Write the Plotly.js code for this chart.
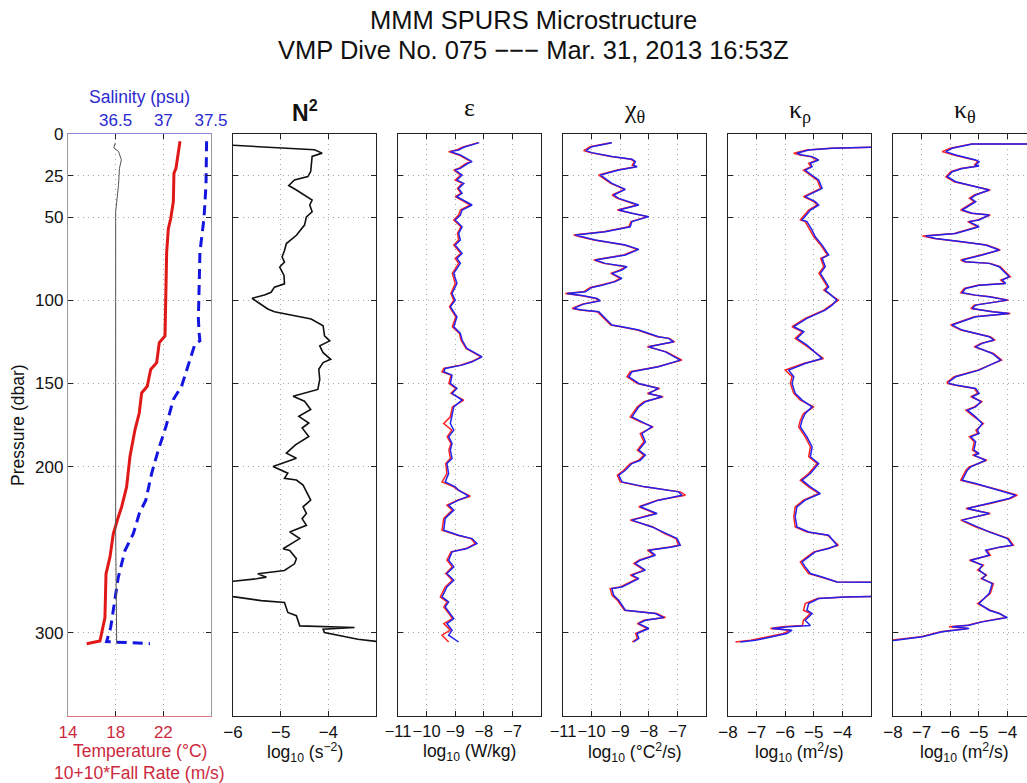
<!DOCTYPE html>
<html><head><meta charset="utf-8">
<script src="https://cdn.plot.ly/plotly-3.0.1.min.js"></script>
<style>html,body{margin:0;padding:0;overflow:hidden;background:#fff}#chart{width:1040px;height:783px}</style>
</head><body><div id="chart"></div>
<script>
// ---------------- data ----------------
const yTicks = [0, 25, 50, 100, 150, 200, 300];

// Panel 1: temperature, fall rate (10+10*W), salinity
const tempP = [4.4,12.5,20.6,23.6,40.7,50.8,56.9,71,90,111,117.4,121.4,125.4,137.5,141.6,151.7,155.7,167.8,177.9,194,212.2,224.3,230.3,240.4,254.5,264.6,290.8,304.9,306.5];
const tempT = [23.40,23.26,23.06,22.89,22.84,22.62,22.42,22.28,22.25,22.2,22.2,22.14,21.66,21.44,20.94,20.65,20.18,19.98,19.62,19.2,18.92,18.5,18.22,17.8,17.52,17.19,17.1,16.68,15.57];
const fallP = [4.4,30.6,50.8,71,87,111,119.4,124.4,126.4,135.5,151.7,159.7,175.9,190,204.1,220.2,228.3,240.4,250.5,266.6,278.7,296.8,305.3,306.5];
const fallV = [25.63,25.58,25.41,25.07,25.02,24.94,25.0,25.07,24.65,24.23,23.53,22.84,22.22,21.58,21.02,20.53,19.98,19.48,18.78,18.22,17.94,17.58,17.24,20.88];
const salP = [5.4,8.4,10.5,15.5,20.6,30.6,46.8,111,240,300,306.5];
const salS = [36.496,36.48,36.53,36.56,36.54,36.53,36.50,36.50,36.50,36.51,36.51];

// Panel 2: log10 N^2
const n2P = [6.0,9.5,11.5,13.5,22.6,25.6,27.6,31.0,33.7,36.7,39.7,42.7,46.8,49.8,54.8,60.9,65.9,70.0,74.0,77.0,80.0,85.1,90.1,92.1,95.2,96.8,98.8,101.2,105.2,106.9,108.9,111.3,115.3,121.4,124.4,127.4,131.5,135.5,137.5,141.5,147.6,153.6,157.7,160.7,165.7,169.8,173.8,176.8,181.9,186.9,191.9,195.0,200.0,204.0,207.1,208.1,211.1,215.1,220.2,224.2,228.2,231.3,235.3,239.3,243.3,249.4,250.4,255.4,258.5,262.5,264.5,266.5,267.5,269.0,273.0,278.2,280.6,281.7,287.7,289.7,295.8,296.8,297.8,299.8,301.8,303.8,305.8];
const n2V = [-6.5,-4.29,-4.13,-4.34,-4.37,-4.43,-4.71,-4.83,-4.67,-4.50,-4.34,-4.39,-4.34,-4.46,-4.50,-4.67,-4.88,-4.92,-4.97,-4.92,-5.02,-4.93,-4.92,-5.13,-5.20,-5.34,-5.60,-5.48,-5.27,-5.13,-4.78,-4.36,-4.11,-4.08,-3.97,-4.18,-4.11,-3.95,-4.11,-4.20,-4.18,-4.22,-4.74,-4.50,-4.37,-4.62,-4.41,-4.55,-4.41,-4.69,-4.88,-4.67,-5.16,-4.85,-4.92,-4.67,-4.53,-4.46,-4.37,-4.53,-4.46,-4.55,-4.46,-4.81,-4.60,-4.95,-4.81,-4.67,-4.71,-4.92,-5.48,-5.30,-5.51,-6.0,-6.8,-6.0,-5.41,-4.92,-4.85,-4.67,-4.60,-3.45,-4.11,-4.08,-3.73,-3.38,-2.8];

// Panel 3: log10 epsilon (two probes)
const epsP = [5.2,8.0,9.6,10.6,12.6,16.6,17.6,20.7,21.7,24.7,27.7,29.7,32.7,35.7,37.7,42.7,45.7,48.7,51.7,55.8,59.8,63.8,66.8,71.8,74.8,77.8,83.8,89.9,95.9,99.9,103.9,109.9,115.9,119.9,123.9,129.0,134.0,137.0,139.0,141.0,143.0,145.0,150.0,153.0,156.0,160.0,164.1,170.1,174.1,178.1,182.1,186.1,190.1,195.1,198.2,204.2,209.2,212.2,214.2,217.8,220.2,223.2,226.2,231.2,238.3,241.3,243.3,246.3,249.3,251.3,256.3,260.3,264.3,268.4,272.4,278.4,281.4,284.4,288.4,291.4,294.4,298.4,301.4,305.5];
const epsBlue = [-8.16,-8.70,-8.88,-9.17,-8.82,-8.41,-8.55,-8.82,-9.00,-8.76,-8.94,-8.70,-8.88,-8.76,-8.94,-8.41,-8.76,-8.82,-9.00,-8.76,-8.88,-8.82,-9.00,-8.76,-8.94,-8.82,-9.05,-8.94,-9.11,-9.00,-9.17,-8.94,-9.05,-8.82,-8.76,-8.59,-8.06,-8.41,-8.76,-9.35,-9.40,-9.11,-9.17,-8.94,-9.11,-8.76,-9.05,-9.11,-9.17,-9.05,-9.23,-9.11,-9.17,-9.11,-9.29,-9.23,-9.35,-9.00,-8.88,-8.53,-8.88,-9.23,-9.05,-9.35,-9.40,-8.88,-8.41,-8.24,-8.59,-9.11,-9.23,-9.05,-9.29,-9.05,-9.29,-9.46,-9.23,-9.35,-9.17,-9.05,-9.29,-9.11,-9.23,-8.88];
const epsRed = [-8.20,-8.75,-8.95,-9.23,-8.88,-8.45,-8.60,-8.88,-9.05,-8.80,-9.00,-8.75,-8.92,-8.80,-9.00,-8.47,-8.82,-8.88,-9.05,-8.80,-8.92,-8.88,-9.05,-8.80,-9.00,-8.88,-9.10,-9.00,-9.15,-9.05,-9.20,-8.98,-9.10,-8.85,-8.80,-8.62,-8.10,-8.45,-8.82,-9.40,-9.46,-9.15,-9.22,-8.98,-9.15,-8.70,-9.10,-9.17,-9.40,-9.12,-9.28,-9.15,-9.22,-9.17,-9.33,-9.29,-9.46,-9.05,-8.90,-8.47,-8.92,-9.29,-9.10,-9.40,-9.46,-8.92,-8.45,-8.30,-8.62,-9.15,-9.29,-9.10,-9.33,-9.10,-9.35,-9.52,-9.28,-9.40,-9.22,-9.10,-9.40,-9.17,-9.46,-9.23];

// Panel 4: log10 chi_theta
const chiP = [5.2,7.6,10.0,11.2,13.6,15.2,16.6,18.7,19.7,21.7,24.7,29.7,33.3,36.7,38.7,42.7,45.7,47.7,49.7,52.7,55.8,58.8,60.8,61.8,63.8,66.8,69.4,72.8,75.8,77.8,79.8,81.8,83.8,86.8,88.8,90.9,92.3,94.9,95.9,97.3,98.9,100.3,102.3,104.9,105.9,106.9,110.9,114.9,115.9,117.9,121.9,122.9,125.0,128.0,131.0,136.0,140.0,143.0,146.0,150.0,153.0,156.0,158.0,161.0,164.1,170.1,173.1,176.1,180.1,185.1,190.1,193.1,196.2,198.2,202.2,205.2,209.2,212.2,215.2,217.2,220.2,224.2,228.2,232.2,236.3,240.3,243.3,247.3,248.3,250.3,253.3,256.3,258.3,262.3,265.3,267.4,272.4,273.4,277.4,280.4,286.4,288.4,290.8,292.4,294.4,297.4,300.4,303.4,305.5];
const chiBlue = [-9.29,-9.99,-10.20,-9.99,-9.29,-8.59,-8.47,-8.53,-8.41,-9.05,-9.69,-9.29,-8.82,-9.23,-9.05,-8.35,-9.05,-8.59,-8.00,-8.59,-8.65,-9.52,-10.57,-10.34,-9.87,-8.82,-8.35,-8.82,-9.87,-9.52,-8.76,-8.94,-9.29,-8.94,-9.17,-9.64,-9.99,-10.22,-10.86,-10.28,-9.81,-9.69,-10.28,-10.63,-10.34,-9.75,-9.52,-9.29,-8.94,-8.35,-7.66,-7.31,-7.13,-8.00,-7.42,-6.90,-7.66,-8.59,-8.70,-8.35,-7.66,-8.00,-7.54,-8.12,-8.35,-8.59,-8.24,-7.89,-8.24,-8.12,-8.35,-8.12,-8.30,-8.59,-8.82,-9.05,-8.94,-8.12,-6.96,-6.84,-7.66,-8.30,-7.71,-8.59,-7.89,-7.42,-7.01,-6.90,-7.19,-8.00,-7.77,-8.30,-8.47,-8.12,-8.59,-8.35,-8.94,-9.29,-9.23,-9.05,-8.82,-7.77,-7.48,-8.12,-8.35,-8.00,-8.41,-8.35,-8.53];
const chiRed = [-9.33,-10.05,-10.28,-10.05,-9.33,-8.62,-8.50,-8.58,-8.45,-9.10,-9.75,-9.33,-8.85,-9.28,-9.10,-8.40,-9.10,-8.62,-8.05,-8.62,-8.70,-9.58,-10.63,-10.40,-9.92,-8.85,-8.40,-8.88,-9.92,-9.58,-8.80,-9.00,-9.33,-9.00,-9.22,-9.70,-10.05,-10.28,-10.92,-10.33,-9.86,-9.74,-10.33,-10.68,-10.40,-9.80,-9.58,-9.33,-8.98,-8.40,-7.70,-7.28,-7.10,-8.05,-7.38,-6.84,-7.70,-8.65,-8.76,-8.40,-7.62,-8.05,-7.50,-8.17,-8.40,-8.65,-8.30,-7.85,-8.30,-8.17,-8.40,-8.17,-8.35,-8.65,-8.88,-9.10,-9.00,-8.17,-6.90,-6.72,-7.70,-8.35,-7.76,-8.65,-7.85,-7.45,-7.05,-6.96,-7.25,-8.05,-7.82,-8.35,-8.52,-8.17,-8.65,-8.40,-9.00,-9.35,-9.28,-9.10,-8.85,-7.72,-7.42,-8.17,-8.40,-8.05,-8.46,-8.40,-8.58];

// Panel 5: log10 K_rho
const krhoP = [7.6,8.6,9.6,11.6,12.6,13.6,15.6,17.6,19.7,21.7,25.7,27.7,32.7,34.7,37.7,40.7,42.7,45.7,51.7,52.7,57.8,61.8,66.8,72.8,74.8,79.8,83.8,91.9,93.9,99.9,102.9,105.9,110.9,115.9,118.9,122.9,127.0,135.0,138.0,142.0,146.0,150.0,156.0,160.0,164.1,168.1,172.1,176.1,182.1,188.1,194.1,198.2,204.2,208.2,212.2,216.2,220.2,224.2,230.2,236.3,239.3,241.3,247.3,249.3,251.3,254.3,257.3,260.3,264.3,266.4,268.4,269.4,269.6,273.8,277.9,278.4,279.4,282.4,286.4,288.4,292.4,295.6,296.4,297.4,298.4,300.4,302.4,304.4,305.5];
const krhoBlue = [-2.0,-4.36,-5.18,-5.59,-5.41,-5.06,-4.83,-5.12,-5.06,-5.30,-5.00,-4.83,-4.71,-4.95,-5.30,-4.95,-4.83,-5.12,-5.41,-5.24,-5.06,-4.95,-4.71,-4.48,-4.71,-4.60,-4.77,-4.48,-4.60,-4.19,-4.36,-4.60,-5.24,-5.70,-5.35,-5.59,-5.24,-4.71,-5.30,-5.88,-5.70,-5.76,-5.65,-5.41,-5.06,-5.30,-5.41,-5.47,-5.24,-5.06,-5.12,-4.83,-5.12,-5.41,-5.12,-4.77,-5.30,-5.59,-5.65,-5.59,-5.18,-4.48,-4.19,-4.48,-4.95,-5.18,-5.41,-5.30,-5.12,-4.71,-4.36,-4.19,-2.0,-1.5,-2.0,-3.90,-4.83,-5.18,-5.24,-5.06,-5.30,-5.12,-5.88,-6.46,-5.76,-5.94,-6.46,-7.04,-7.57];
const krhoRed = [-2.0,-4.40,-5.25,-5.70,-5.48,-5.12,-4.88,-5.18,-5.10,-5.36,-5.05,-4.88,-4.76,-5.00,-5.36,-5.00,-4.88,-5.18,-5.47,-5.30,-5.12,-5.00,-4.76,-4.52,-4.76,-4.65,-4.82,-4.52,-4.65,-4.14,-4.40,-4.65,-5.30,-5.76,-5.40,-5.65,-5.30,-4.66,-5.36,-6.00,-5.76,-5.82,-5.70,-5.47,-5.00,-5.36,-5.47,-5.53,-5.30,-5.12,-5.18,-4.88,-5.18,-5.47,-5.18,-4.82,-5.36,-5.65,-5.70,-5.65,-5.24,-4.52,-4.14,-4.52,-5.00,-5.24,-5.47,-5.36,-5.18,-4.76,-4.40,-4.19,-2.0,-1.5,-2.0,-3.90,-4.88,-5.30,-5.36,-5.12,-5.36,-5.40,-6.10,-6.52,-5.82,-6.05,-6.60,-7.20,-7.74];

// Panel 6: log10 K_theta
const kthP = [6.0,6.0,8.6,10.6,12.6,14.6,15.6,16.6,18.7,19.3,20.7,22.7,25.7,28.7,31.7,33.7,36.7,38.7,40.7,45.7,47.7,48.7,51.7,52.7,55.8,59.8,61.4,62.8,64.8,66.8,69.8,72.8,75.8,76.8,77.8,79.8,85.8,87.8,89.9,90.9,92.9,95.5,96.9,97.9,99.9,102.9,104.9,106.9,107.9,109.9,114.9,117.9,121.9,123.9,125.9,128.0,132.0,136.0,142.0,146.0,149.0,150.0,151.0,153.0,156.0,158.0,161.0,164.1,166.1,170.1,174.1,178.1,180.1,182.1,185.1,190.1,192.1,193.1,196.2,200.2,202.2,208.2,210.2,214.2,217.2,219.2,222.2,225.2,228.2,232.2,236.3,239.3,243.3,247.3,248.3,250.3,253.3,256.3,259.3,262.3,265.3,267.4,270.4,276.4,282.4,286.4,288.4,290.8,293.4,295.4,296.4,297.4,299.4,302.4,304.4,305.1];
const kthBlue = [-2.0,-5.23,-5.93,-6.16,-5.81,-5.34,-5.11,-4.99,-5.11,-4.99,-5.58,-5.93,-6.10,-5.81,-5.11,-4.64,-5.11,-5.28,-5.11,-5.58,-5.23,-4.64,-4.99,-5.34,-4.99,-5.81,-6.86,-6.51,-5.58,-4.76,-4.29,-4.88,-5.58,-5.46,-4.64,-4.29,-3.94,-4.18,-4.06,-4.99,-5.46,-5.58,-5.11,-4.64,-4.00,-5.11,-5.23,-4.53,-3.94,-5.11,-5.93,-5.58,-4.64,-4.47,-4.88,-5.11,-4.53,-4.24,-4.99,-5.81,-6.04,-6.04,-5.81,-5.11,-4.99,-5.23,-4.93,-5.11,-5.40,-5.11,-4.88,-5.05,-4.99,-5.28,-5.11,-5.17,-4.99,-5.17,-4.76,-5.28,-5.40,-5.58,-5.11,-4.29,-3.71,-3.94,-4.64,-5.40,-4.64,-5.58,-5.05,-4.64,-4.00,-3.83,-4.24,-4.76,-4.64,-5.28,-4.88,-4.99,-4.76,-4.88,-4.53,-4.64,-4.99,-4.64,-4.29,-4.00,-4.88,-5.34,-5.93,-5.34,-6.28,-6.97,-7.91,-8.37];
const kthRed = [-2.0,-5.25,-6.00,-6.28,-5.88,-5.38,-5.15,-5.03,-5.16,-5.03,-5.63,-5.98,-6.15,-5.86,-5.15,-4.60,-5.16,-5.33,-5.16,-5.63,-5.28,-4.60,-5.04,-5.39,-5.04,-5.86,-6.97,-6.56,-5.63,-4.72,-4.25,-4.93,-5.63,-5.51,-4.60,-4.25,-3.90,-4.23,-4.10,-5.04,-5.51,-5.63,-5.16,-4.60,-3.96,-5.16,-5.28,-4.49,-3.90,-5.16,-5.98,-5.63,-4.60,-4.43,-4.93,-5.16,-4.49,-4.20,-5.04,-5.86,-6.10,-6.10,-5.86,-5.16,-5.04,-5.28,-4.88,-5.16,-5.45,-5.16,-4.84,-5.10,-5.04,-5.33,-5.16,-5.22,-5.04,-5.22,-4.72,-5.33,-5.45,-5.63,-5.16,-4.25,-3.65,-3.90,-4.60,-5.45,-4.60,-5.63,-5.10,-4.60,-3.96,-3.79,-4.20,-4.72,-4.60,-5.33,-4.84,-5.04,-4.72,-4.93,-4.49,-4.60,-5.04,-4.60,-4.25,-4.06,-4.93,-5.39,-6.04,-5.39,-6.33,-7.02,-7.96,-8.40];

// axis ranges / tick labels
const tempTicks = [14, 18, 22];
const salTicks = [36.5, 37, 37.5];
const n2Ticks = [-6, -5, -4];
const epsTicks = [-11, -10, -9, -8, -7];
const kTicks = [-8, -7, -6, -5, -4];

// ---------------- layout ----------------
const SANS = 'Liberation Sans, Arial, Helvetica, sans-serif';
const SERIF = 'Liberation Serif, Times New Roman, serif';
const W = 1040, H = 783, L = 68, R = 4, T = 134, B = 67;
const PW = W - L - R, PH = H - T - B;
const panelLeft = [68, 233, 398, 563, 728, 893], panelW = 143;
const dom = i => [(panelLeft[i] - L) / PW, Math.min(1, (panelLeft[i] + panelW - L) / PW)];
const cx = i => (panelLeft[i] + panelW / 2 - L) / PW;
const cxPix = pix => (pix - L) / PW;
const py = pix => (H - B - pix) / PH;
const RED = '#cc2a40', BLUE = '#2a2ad0';
const TICK = 17, LAB = 17.5;

function xAx(i, range, tickvals, extra) {
  return Object.assign({
    domain: dom(i), anchor: i === 0 ? 'y' : 'y' + (i + 1), range: range,
    tickmode: 'array', tickvals: tickvals, ticks: 'inside', ticklen: 5, tickcolor: '#222',
    tickangle: 0, automargin: false,
    showline: true, linecolor: '#222', linewidth: 1.2, mirror: 'ticks', zeroline: false,
    showgrid: true, gridcolor: '#a8a8a8', griddash: '1px,4px', gridwidth: 1,
    tickfont: {family: SANS, size: TICK, color: '#111'}
  }, extra || {});
}
function yAx(i, extra) {
  return Object.assign({
    domain: [0, 1], anchor: i === 0 ? 'x' : 'x' + (i + 1), range: [350, 0],
    tickmode: 'array', tickvals: yTicks, ticks: 'inside', ticklen: 5, tickcolor: '#222',
    automargin: false,
    showline: true, linecolor: '#222', linewidth: 1.2, mirror: 'ticks', zeroline: false,
    showgrid: true, gridcolor: '#a8a8a8', griddash: '1px,4px', gridwidth: 1,
    showticklabels: i === 0, tickfont: {family: SANS, size: TICK, color: '#111'}
  }, i === 0 ? {} : {matches: 'y'}, extra || {});
}

const layout = {
  width: W, height: H, margin: {l: L, r: R, t: T, b: B},
  paper_bgcolor: '#fff', plot_bgcolor: '#fff', showlegend: false,
  font: {family: SANS, color: '#111'},
  xaxis: xAx(0, [14, 26], tempTicks, {mirror: false, linecolor: '#e0707e', tickfont: {family: SANS, size: TICK, color: RED}}),
  xaxis7: xAx(0, [36, 37.5], salTicks, {overlaying: 'x', side: 'top', anchor: 'y', mirror: false, showgrid: false,
          linecolor: '#8888d8', tickfont: {family: SANS, size: TICK, color: BLUE}}),
  xaxis2: xAx(1, [-6, -3], n2Ticks),
  xaxis3: xAx(2, [-11, -6], epsTicks, {tickfont: {family: SANS, size: 16.5, color: '#111'}}),
  xaxis4: xAx(3, [-11, -6], epsTicks, {tickfont: {family: SANS, size: 16.5, color: '#111'}}),
  xaxis5: xAx(4, [-8, -3], kTicks),
  xaxis6: xAx(5, [-8, -3], kTicks),
  yaxis: yAx(0, {linecolor: '#999'}),
  yaxis2: yAx(1), yaxis3: yAx(2), yaxis4: yAx(3), yaxis5: yAx(4), yaxis6: yAx(5),
  annotations: []
};

const ann = (text, x, y, size, color, family, extra) => layout.annotations.push(Object.assign({
  text: text, xref: 'paper', yref: 'paper', x: x, y: y, xanchor: 'center', yanchor: 'middle',
  showarrow: false, font: {family: family || SANS, size: size, color: color || '#111'}
}, extra || {}));

// figure title (two lines)
ann('MMM SPURS Microstructure', cxPix(533), py(20), 25.5);
ann('VMP Dive No. 075 −−− Mar. 31, 2013 16:53Z', cxPix(533), py(50), 25.5);
// panel headings
ann('<b>N<sup>2</sup></b>', cx(1), py(111), 23);
ann('ε', cx(2), py(108), 26, '#111', SERIF);
ann('χ<sub>θ</sub>', cx(3), py(111), 26, '#111', SERIF);
ann('κ<sub>ρ</sub>', cx(4), py(111), 26, '#111', SERIF);
ann('κ<sub>θ</sub>', cx(5), py(111), 26, '#111', SERIF);
ann('Salinity (psu)', cx(0), py(97), LAB, BLUE);
// axis titles
ann('Pressure (dbar)', (18 - L) / PW, py(425), LAB, '#111', SANS, {textangle: -90});
ann('Temperature (°C)', cx(0), py(751), LAB, RED);
ann('10+10*Fall Rate (m/s)', cx(0), py(773), LAB, RED);
ann('log<sub>10</sub> (s<sup>−2</sup>)', cx(1), py(752), LAB);
ann('log<sub>10</sub> (W/kg)', cx(2), py(752), LAB);
ann('log<sub>10</sub> (°C<sup>2</sup>/s)', cx(3), py(752), LAB);
ann('log<sub>10</sub> (m<sup>2</sup>/s)', cx(4), py(752), LAB);
ann('log<sub>10</sub> (m<sup>2</sup>/s)', cx(5), py(752), LAB);

// ---------------- traces ----------------
const PR = '#ff2222', PB = '#2222ee';
const tr = (x, y, xa, ya, color, width, dash) => ({
  type: 'scatter', mode: 'lines', x: x, y: y, xaxis: xa, yaxis: ya,
  line: {color: color, width: width, dash: dash || 'solid'}, hoverinfo: 'skip'
});
const data = [
  tr(salS, salP, 'x7', 'y', '#555', 1),
  tr(fallV, fallP, 'x', 'y', '#1515e0', 3, '10px,6px'),
  tr(tempT, tempP, 'x', 'y', '#e01818', 3),
  tr(n2V, n2P, 'x2', 'y2', '#111', 1.6),
  tr(epsRed, epsP, 'x3', 'y3', PR, 1.5),
  tr(epsBlue, epsP, 'x3', 'y3', PB, 1.5),
  tr(chiRed, chiP, 'x4', 'y4', PR, 1.5),
  tr(chiBlue, chiP, 'x4', 'y4', PB, 1.5),
  tr(krhoRed, krhoP, 'x5', 'y5', PR, 1.5),
  tr(krhoBlue, krhoP, 'x5', 'y5', PB, 1.5),
  tr(kthRed, kthP, 'x6', 'y6', PR, 1.5),
  tr(kthBlue, kthP, 'x6', 'y6', PB, 1.5)
];

Plotly.newPlot('chart', data, layout, {staticPlot: true, displayModeBar: false});
</script>
</body></html>
